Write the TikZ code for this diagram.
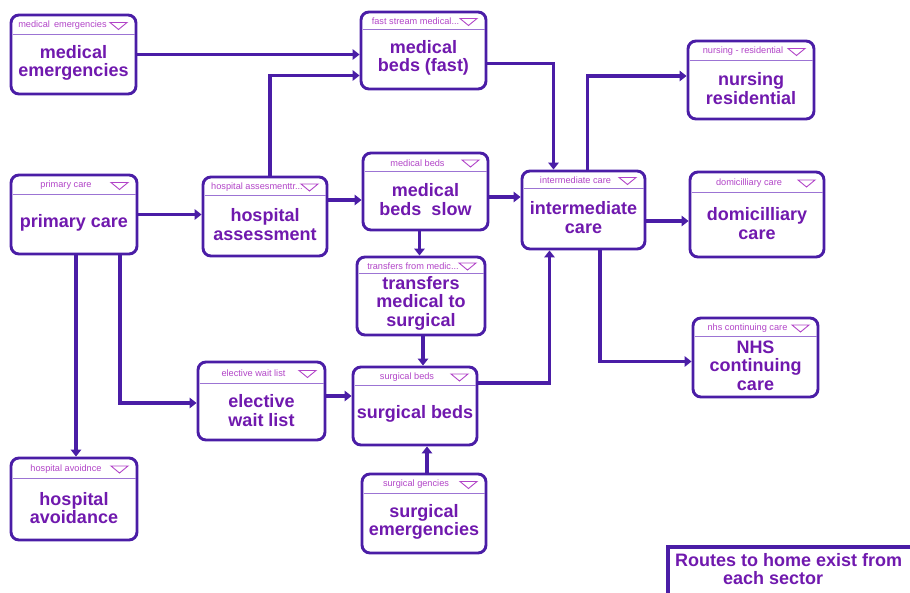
\documentclass[tikz,border=0pt]{standalone}
\usepackage{fontspec}
\setmainfont{Liberation Sans}
\usetikzlibrary{arrows.meta,calc}

\definecolor{edge}{HTML}{4A1DA6}
\definecolor{ink}{HTML}{7019AE}
\definecolor{tag}{HTML}{B245C8}
\definecolor{rulecol}{HTML}{9C74D4}

\tikzset{
  stock/.style={draw=edge, line width=2.9pt, rounded corners=8pt, fill=white, inner sep=0pt},
  headrule/.style={draw=rulecol, line width=0.8pt},
  headtext/.style={text=tag, font=\fontsize{9.2}{10}\selectfont, inner sep=0pt},
  tagmark/.style={draw=tag, line width=0.9pt, line join=miter},
  maintext/.style={text=ink, font=\fontsize{18}{18.5}\selectfont\bfseries, align=center, inner sep=0pt},
  flow/.style={draw=edge, line width=3.8pt, -{Triangle[length=7pt,width=10.5pt]}},
}

% \stockbox{name}{x1}{y1}{x2}{y2}{header rule y}{header label}{title}
\newcommand\stockbox[8]{%
  \pgfmathsetmacro\bw{#4-#2}%
  \pgfmathsetmacro\bh{#5-#3}%
  \pgfmathsetmacro\bx{(#2+#4)/2}%
  \pgfmathsetmacro\by{(#3+#5)/2}%
  \pgfmathsetmacro\hc{(#3+#6)/2}%
  \pgfmathsetmacro\tc{(#6+#5)/2-1}%
  \node[stock, minimum width=\bw pt, minimum height=\bh pt] (#1) at (\bx,\by) {};
  \draw[headrule] (#2+1.5,#6) -- (#4-1.5,#6);
  \node[headtext] (#1-tag) at (\bx-8,\hc+1) {#7};
  \draw[tagmark] (#4-26,\hc-2) -- (#4-9,\hc-2) -- (#4-17.5,\hc+5) -- cycle;
  \node[maintext] (#1-text) at (\bx,\tc) {#8};
}

\begin{document}
\begin{tikzpicture}[x=1pt, y=-1pt]
  \useasboundingbox (0,0) rectangle (910,593);

  % stocks
  \stockbox{me}{11}{15}{136}{94}{34}{\hspace*{-6pt}medical\hspace{4pt}emergencies}{medical\\emergencies}
  \stockbox{mbf}{361}{12}{486}{89}{29}{fast stream medical...}{medical\\beds (fast)}
  \stockbox{nr}{688}{41}{814}{119}{60}{nursing - residential}{nursing\\residential}
  \stockbox{pc}{11}{175}{137}{254}{194}{primary care}{primary care}
  \stockbox{ha}{203}{177}{327}{256}{195}{hospital assesmenttr...}{hospital\\assessment}
  \stockbox{mbs}{363}{153}{488}{230}{171}{medical beds}{medical\\beds\ \ slow}
  \stockbox{ic}{522}{171}{645}{249}{188}{intermediate care}{intermediate\\care}
  \stockbox{dom}{690}{172}{824}{257}{192}{domicilliary care}{domicilliary\\care}
  \stockbox{tr}{357}{257}{485}{335}{273}{transfers from medic...}{transfers\\medical to\\surgical}
  \stockbox{nhs}{693}{318}{818}{397}{336}{nhs continuing care}{NHS\\continuing\\care}
  \stockbox{ewl}{198}{362}{325}{440}{383}{elective wait list}{elective\\wait list}
  \stockbox{sb}{353}{367}{477}{445}{385}{surgical beds}{surgical beds}
  \stockbox{se}{362}{474}{486}{553}{493}{surgical gencies}{surgical\\emergencies}
  \stockbox{hav}{11}{458}{137}{540}{478}{hospital avoidnce}{hospital\\avoidance}

  % flows
  \draw[flow] (me.east) -- (me.east -| mbf.west);
  \draw[flow] ([xshift=5pt]ha.north) |- ([yshift=-25pt]mbf.west);
  \draw[flow] ([yshift=-13pt]mbf.east) -| ([xshift=-30pt]ic.north);
  \draw[flow] ([xshift=4pt]ic.north) |- ([yshift=4pt]nr.west);
  \draw[flow] (pc.east) -- (pc.east -| ha.west);
  \draw[flow] ([yshift=16.5pt]ha.east) -- ([yshift=16.5pt]ha.east -| mbs.west);
  \draw[flow] ([yshift=-5.5pt]mbs.east) -- ([yshift=-5.5pt]mbs.east -| ic.west);
  \draw[flow] ([xshift=-6pt]mbs.south) -- ([xshift=-6pt]mbs.south |- tr.north);
  \draw[flow] ([xshift=2pt]tr.south) -- ([xshift=2pt]tr.south |- sb.north);
  \draw[flow] ([xshift=3pt]se.north) -- ([xshift=3pt]se.north |- sb.south);
  \draw[flow] ([yshift=23pt]sb.east) -| ([xshift=-34pt]ic.south);
  \draw[flow] ([yshift=-11pt]ic.east) -- ([yshift=-11pt]ic.east -| dom.west);
  \draw[flow] ([xshift=16.5pt]ic.south) |- ([yshift=-4pt]nhs.west);
  \draw[flow] ([xshift=46pt]pc.south) |- ([yshift=-2pt]ewl.west);
  \draw[flow] ([xshift=2pt]pc.south) -- ([xshift=2pt]pc.south |- hav.north);
  \draw[flow] ([yshift=5pt]ewl.east) -- ([yshift=5pt]ewl.east -| sb.west);

  % note box running off the lower right edge
  \begin{scope}
    \clip (0,0) rectangle (910,593);
    \draw[draw=edge, line width=3.8pt] (668,547) rectangle (940,620);
  \end{scope}
  \node[maintext, align=left, anchor=north west] (routes) at (675,553)
    {Routes to home exist from\\\hspace*{48pt}each sector};
\end{tikzpicture}
\end{document}
